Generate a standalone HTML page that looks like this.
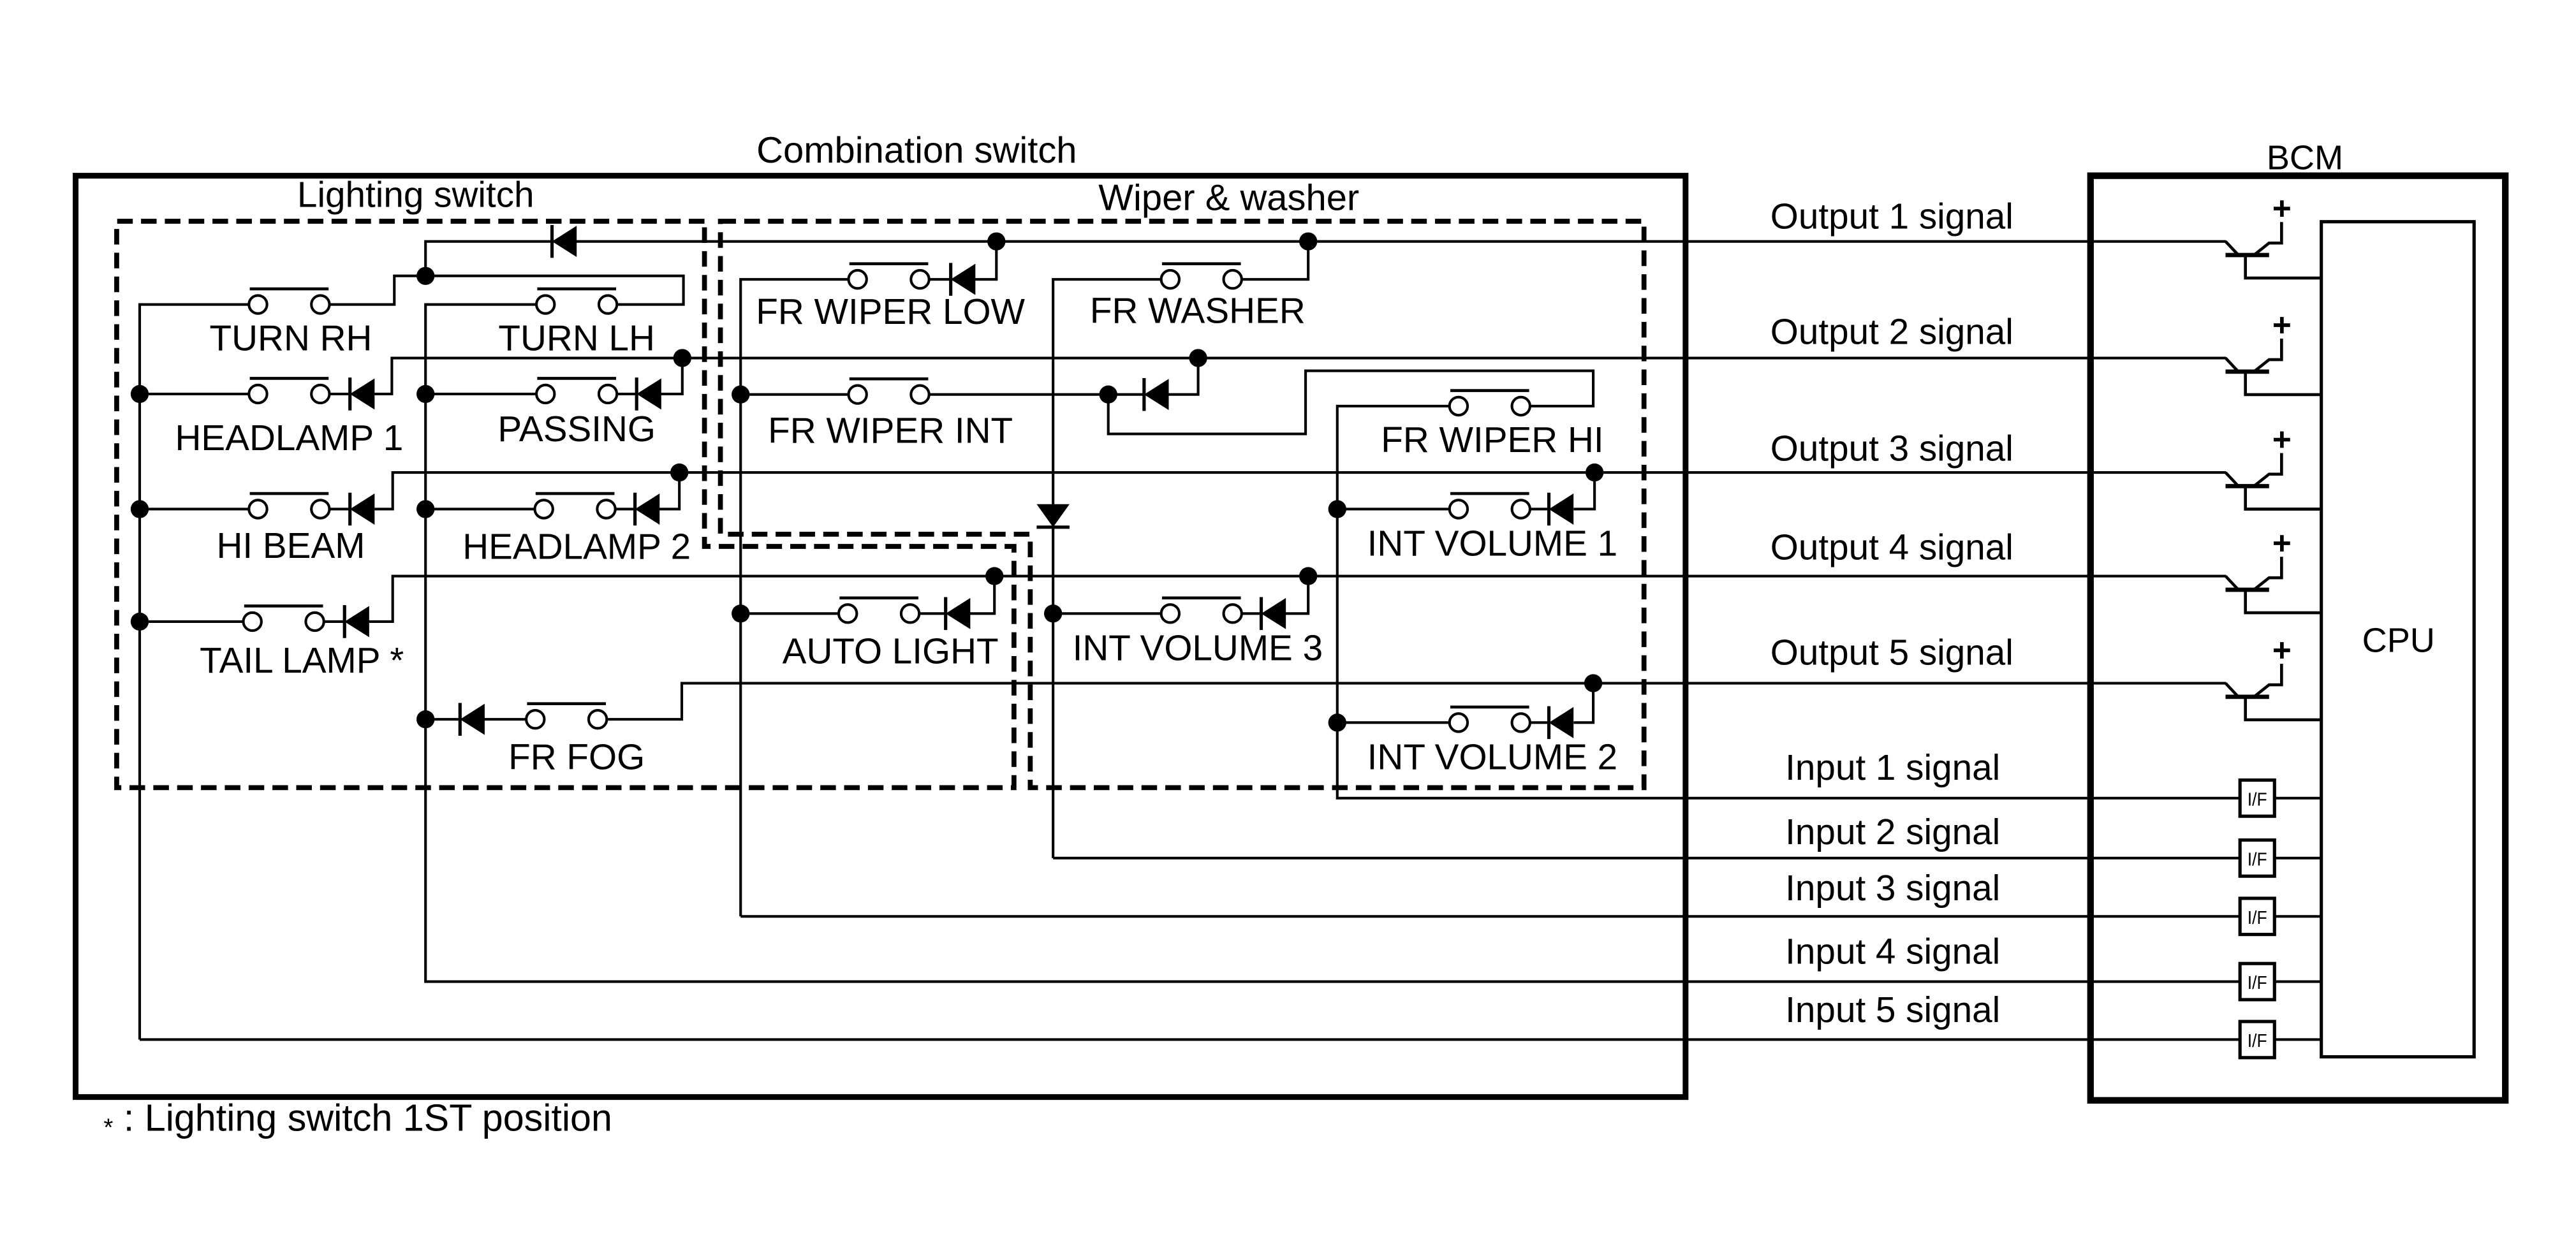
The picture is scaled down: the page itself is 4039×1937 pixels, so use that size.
<!DOCTYPE html>
<html><head><meta charset="utf-8"><style>html,body{margin:0;padding:0;background:#fff}svg{display:block}</style></head>
<body>
<svg xmlns="http://www.w3.org/2000/svg" width="4039" height="1937" viewBox="0 0 1568 752">
<defs>
<g id="sw"><circle cx="0" cy="0" r="5.5" fill="#fff" stroke="#000" stroke-width="1.6"/><circle cx="38" cy="0" r="5.5" fill="#fff" stroke="#000" stroke-width="1.6"/><line x1="-5" y1="-9.5" x2="43" y2="-9.5" stroke="#000" stroke-width="1.8"/></g>
<g id="dl"><polygon points="0,0 15,-9.5 15,9.5" fill="#000"/><line x1="0" y1="-10" x2="0" y2="10" stroke="#000" stroke-width="2"/></g>
<g id="tr" fill="none" stroke="#000" stroke-width="1.8"><path d="M1354.7,0 L1362.5,8.3"/><path d="M1354.7,8.3 H1381.2" stroke-width="2.6"/><path d="M1372,8.3 L1381.2,1 H1388.8 V-11.8"/><path d="M1366.8,8.3 V22.3 H1413"/><path d="M1384,-20 H1394 M1389,-25 V-15" stroke-width="2.2"/></g>
<g id="if"><rect x="1363.5" y="-11" width="21" height="22" fill="#fff" stroke="#000" stroke-width="2"/><text x="1374" y="4.5" font-size="11" text-anchor="middle" font-family="Liberation Sans, sans-serif" textLength="12" lengthAdjust="spacingAndGlyphs">I/F</text></g>
</defs>
<rect width="1568" height="752" fill="#fff"/>
<g font-family="Liberation Sans, Arial, sans-serif" fill="#000">
<text x="558" y="99" font-size="22.5" text-anchor="middle">Combination switch</text>
<text x="253" y="126" font-size="22" text-anchor="middle">Lighting switch</text>
<text x="748" y="128" font-size="22.5" text-anchor="middle">Wiper &amp; washer</text>
<text x="1403" y="103" font-size="21" text-anchor="middle">BCM</text>
<text x="1460" y="397" font-size="21" text-anchor="middle">CPU</text>
</g>
<rect x="46" y="107" width="980" height="561" fill="none" stroke="#000" stroke-width="3.5"/>
<rect x="1272.5" y="107" width="252.5" height="563" fill="none" stroke="#000" stroke-width="4"/>
<rect x="1413" y="135" width="93" height="508.5" fill="none" stroke="#000" stroke-width="2"/>
<g fill="none" stroke="#000" stroke-width="3" stroke-dasharray="9.5 5">
<path d="M428.8,134.7 H71 V479.6 H617.2 V332.7 H428.8 Z"/>
<path d="M438.5,134.7 H1000.7 V479.6 H627.1 V325.3 H438.5 Z"/>
</g>
<g fill="none" stroke="#000" stroke-width="1.6">
<path d="M85,633 V185.4 H151.5"/>
<path d="M200.5,185.4 H240 V168 H416 V185.4 H375.5"/>
<path d="M326.5,185.4 H259 V597.7 H1413"/>
<path d="M259,168 V147 H1355"/>
<path d="M85,239.9 H151.5 M200.5,239.9 H213 M228,239.9 H238.5 V218 H1355"/>
<path d="M259,239.9 H326.5 M375.5,239.9 H387.5 M402,239.9 H415.3 V218"/>
<path d="M85,310 H151.5 M200.5,310 H213 M228,310 H239 V287.7 H1355"/>
<path d="M259,310 H325.5 M374.5,310 H386.5 M401,310 H413.5 V287.7"/>
<path d="M85,378.5 H148 M197,378.5 H209.7 M224.6,378.5 H239 V350.8 H1355"/>
<path d="M259,438 H280 M294.6,438 H320.3 M369.5,438 H415 V416 H1355"/>
<path d="M85,633 H1413"/>
<path d="M450.8,558 V170.1 H516.5 M565.5,170.1 H578.7 M593.4,170.1 H606.5 V147"/>
<path d="M450.8,558 H1413"/>
<path d="M641,522.5 V170.1 H706.8 M755.8,170.1 H796.3 V147"/>
<path d="M641,522.5 H1413"/>
<path d="M450.8,240.2 H516.5 M565.5,240.2 H696.4 M711,240.2 H729.3 V218"/>
<path d="M674.6,240.2 V264.2 H794.7 V225.8 H969.8 V247.3 H931.3"/>
<path d="M882.3,247.3 H814 V486 H1413"/>
<path d="M814,310 H882.3 M931.3,310 H942.8 M957.9,310 H970.6 V287.7"/>
<path d="M450.8,373.6 H510.5 M559.5,373.6 H575.6 M590,373.6 H605.3 V350.8"/>
<path d="M641,373.6 H706.8 M755.8,373.6 H767.7 M782.4,373.6 H796.3 V350.8"/>
<path d="M814,440 H882.3 M931.3,440 H942.8 M957.9,440 H969.8 V416"/>
</g>
<use href="#sw" x="157" y="185.4"/>
<use href="#sw" x="332" y="185.4"/>
<use href="#sw" x="157" y="239.9"/>
<use href="#sw" x="332" y="239.9"/>
<use href="#sw" x="157" y="310"/>
<use href="#sw" x="331" y="310"/>
<use href="#sw" x="153.6" y="378.5"/>
<use href="#sw" x="325.8" y="438"/>
<use href="#sw" x="522" y="170.1"/>
<use href="#sw" x="712.3" y="170.1"/>
<use href="#sw" x="522" y="240.2"/>
<use href="#sw" x="887.8" y="247.3"/>
<use href="#sw" x="887.8" y="310"/>
<use href="#sw" x="516" y="373.6"/>
<use href="#sw" x="712.3" y="373.6"/>
<use href="#sw" x="887.8" y="440"/>
<use href="#dl" x="336" y="147"/>
<use href="#dl" x="213" y="239.9"/>
<use href="#dl" x="387.5" y="239.9"/>
<use href="#dl" x="213" y="310"/>
<use href="#dl" x="386.5" y="310"/>
<use href="#dl" x="209.7" y="378.5"/>
<use href="#dl" x="280" y="438"/>
<use href="#dl" x="578.7" y="170.1"/>
<use href="#dl" x="696.4" y="240.2"/>
<use href="#dl" x="942.8" y="310"/>
<use href="#dl" x="575.6" y="373.6"/>
<use href="#dl" x="767.7" y="373.6"/>
<use href="#dl" x="942.8" y="440"/>
<polygon points="631,307 651,307 641,321" fill="#000"/>
<line x1="631" y1="321" x2="651" y2="321" stroke="#000" stroke-width="2"/>
<g fill="#000">
<circle cx="259" cy="168" r="5.5"/>
<circle cx="85" cy="239.9" r="5.5"/><circle cx="85" cy="310" r="5.5"/><circle cx="85" cy="378.5" r="5.5"/>
<circle cx="259" cy="239.9" r="5.5"/><circle cx="259" cy="310" r="5.5"/><circle cx="259" cy="438" r="5.5"/>
<circle cx="415.3" cy="218" r="5.5"/><circle cx="413.5" cy="287.7" r="5.5"/>
<circle cx="606.5" cy="147" r="5.5"/><circle cx="796.3" cy="147" r="5.5"/>
<circle cx="450.8" cy="240.2" r="5.5"/><circle cx="674.6" cy="240.2" r="5.5"/><circle cx="729.3" cy="218" r="5.5"/>
<circle cx="814" cy="310" r="5.5"/><circle cx="970.6" cy="287.7" r="5.5"/>
<circle cx="450.8" cy="373.6" r="5.5"/><circle cx="605.3" cy="350.8" r="5.5"/>
<circle cx="641" cy="373.6" r="5.5"/><circle cx="796.3" cy="350.8" r="5.5"/>
<circle cx="814" cy="440" r="5.5"/><circle cx="969.8" cy="416" r="5.5"/>
</g>
<use href="#tr" y="147"/><use href="#tr" y="218"/><use href="#tr" y="287.7"/><use href="#tr" y="350.8"/><use href="#tr" y="416"/>
<use href="#if" y="486"/><use href="#if" y="522.5"/><use href="#if" y="558"/><use href="#if" y="597.7"/><use href="#if" y="633"/>
<g font-family="Liberation Sans, Arial, sans-serif" font-size="22" fill="#000" text-anchor="middle">
<text x="177" y="213.4">TURN RH</text>
<text x="351" y="213.4">TURN LH</text>
<text x="176" y="274">HEADLAMP 1</text>
<text x="351" y="268.6">PASSING</text>
<text x="177" y="339.7">HI BEAM</text>
<text x="351" y="340.2">HEADLAMP 2</text>
<text x="183.7" y="409.5">TAIL LAMP *</text>
<text x="351" y="468.4">FR FOG</text>
<text x="542" y="197.3">FR WIPER LOW</text>
<text x="729" y="196.6">FR WASHER</text>
<text x="542" y="269.6">FR WIPER INT</text>
<text x="908.4" y="275.3">FR WIPER HI</text>
<text x="908.4" y="338.4">INT VOLUME 1</text>
<text x="542" y="404">AUTO LIGHT</text>
<text x="729" y="402">INT VOLUME 3</text>
<text x="908.4" y="468.4">INT VOLUME 2</text>
</g>
<g font-family="Liberation Sans, Arial, sans-serif" font-size="22" fill="#000">
<text x="1077.6" y="139.2">Output 1 signal</text>
<text x="1077.6" y="209.4">Output 2 signal</text>
<text x="1077.6" y="280.4">Output 3 signal</text>
<text x="1077.6" y="340.7">Output 4 signal</text>
<text x="1077.6" y="404.7">Output 5 signal</text>
<text x="1086.7" y="474.9">Input 1 signal</text>
<text x="1086.7" y="514">Input 2 signal</text>
<text x="1086.7" y="548.2">Input 3 signal</text>
<text x="1086.7" y="586.8">Input 4 signal</text>
<text x="1086.7" y="622.4">Input 5 signal</text>
<text x="63" y="688.6" font-size="23"><tspan font-size="15" dy="3">*</tspan><tspan dy="-3"> : Lighting switch 1ST position</tspan></text>
</g>
</svg>
</body></html>
